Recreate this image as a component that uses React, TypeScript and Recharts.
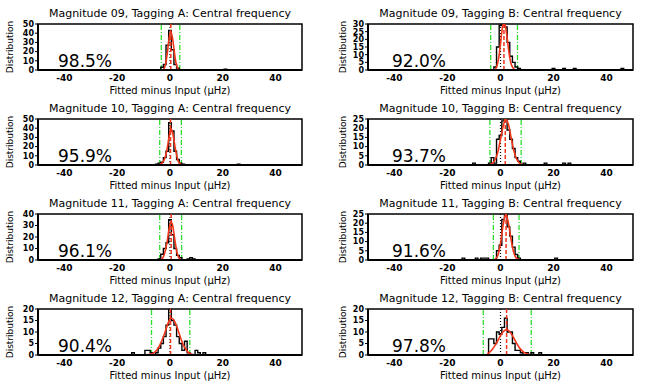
import { ComposedChart, Line, XAxis, YAxis, ReferenceLine, ReferenceArea } from "recharts";

// histogram bins: [bin centre (μHz), count]
const hist09A: [number, number][] = [[-3, 3], [-2, 6], [-1, 27], [0, 43], [1, 22], [2, 6], [3, 2], [21, 1]];
const hist09B: [number, number][] = [[-2, 2], [-1, 15], [0, 29], [1, 30], [2, 28], [3, 18], [4, 9], [5, 5], [6, 2], [7, 1], [20, 1], [24, 1], [28, 1], [46, 1]];
const hist10A: [number, number][] = [[-5, 1], [-4, 2], [-3, 3], [-2, 8], [-1, 15], [0, 46], [1, 37], [2, 15], [3, 6], [4, 2], [5, 1], [26, 1]];
const hist10B: [number, number][] = [[-10, 1], [-4, 1], [-3, 4], [-2, 1], [-1, 14], [0, 16], [1, 24], [2, 25], [3, 19], [4, 14], [5, 9], [6, 4], [7, 2], [9, 1], [17, 1], [24, 1], [26, 1]];
const hist11A: [number, number][] = [[-4, 1], [-3, 5], [-2, 10], [-1, 15], [0, 35], [1, 22], [2, 10], [3, 4], [4, 2], [7, 1], [8, 2], [9, 1]];
const hist11B: [number, number][] = [[-14, 1], [-9, 1], [-7, 1], [-6, 1], [-5, 1], [-1, 5], [0, 8], [1, 22], [2, 25], [3, 18], [4, 13], [5, 7], [6, 3], [7, 1], [21, 1]];
const hist12A: [number, number][] = [[-14, 1], [-9, 2], [-8, 2], [-7, 1], [-5, 1], [-4, 3], [-3, 5], [-2, 8], [-1, 13], [0, 21], [1, 15], [2, 13], [3, 8], [4, 5], [5, 2], [6, 6], [7, 1], [10, 2], [11, 1], [13, 1]];
const hist12B: [number, number][] = [[-4, 7], [-3, 7], [-2, 5], [-1, 10], [0, 9], [1, 12], [2, 16], [3, 10], [4, 10], [5, 5], [6, 2], [7, 2], [8, 1], [10, 1], [12, 1], [15, 1]];

// gaussian fits: [x, y]
const fit09A: [number, number][] = [[-3, 0], [-2.5, 0.5], [-2, 3], [-1.5, 9], [-1, 19], [-0.5, 31], [0, 40], [0.3, 41], [0.5, 40], [1, 34], [1.5, 23], [2, 12], [2.5, 5], [3, 1.5], [3.5, 0.3], [4, 0], [21, 0]];
const fit09B: [number, number][] = [[-3, 0], [-2, 0.5], [-1.5, 2], [-1, 5], [-0.5, 10], [0, 17], [0.5, 25], [1, 30], [1.3, 31], [1.5, 30.5], [2, 27], [2.5, 21], [3, 14], [3.5, 8], [4, 4], [4.5, 2], [5, 0.8], [6, 0], [46, 0]];
const fit10A: [number, number][] = [[-5, 0], [-4, 0.5], [-3, 2], [-2, 7], [-1.5, 12], [-1, 19], [-0.5, 28], [0, 36], [0.3, 40], [0.5, 39], [1, 35], [1.5, 27], [2, 18], [2.5, 11], [3, 5], [3.5, 2.5], [4, 1], [5, 0], [26, 0]];
const fit10B: [number, number][] = [[-10, 0], [-5, 0], [-4, 0.3], [-3, 1], [-2, 3], [-1, 7], [0, 14], [1, 21], [1.9, 25], [3, 22], [4, 15], [5, 8], [6, 3.5], [7, 1.2], [8, 0.3], [9, 0], [27, 0]];
const fit11A: [number, number][] = [[-4, 0], [-3, 1], [-2.5, 3], [-2, 6], [-1.5, 11], [-1, 17], [-0.5, 25], [0, 31], [0.4, 33], [1, 30], [1.5, 23], [2, 15], [2.5, 8], [3, 4], [3.5, 1.5], [4, 0.5], [5, 0], [10, 0]];
const fit11B: [number, number][] = [[-14, 0], [-3, 0], [-2, 0.5], [-1, 2.5], [0, 9], [1, 19], [2, 25], [3, 20], [4, 11], [5, 4], [6, 1], [7, 0.2], [8, 0], [21, 0]];
const fit12A: [number, number][] = [[-14, 0], [-8, 0.2], [-6, 1], [-5, 2.2], [-4, 4], [-3, 6.5], [-2, 9.5], [-1, 13], [0, 15.5], [0.5, 16], [1, 15.8], [2, 14], [3, 11], [4, 7.5], [5, 4.5], [6, 2.5], [7, 1], [8, 0.4], [10, 0], [13, 0]];
const fit12B: [number, number][] = [[-5, 0.5], [-4, 1.3], [-3, 2.6], [-2, 4.3], [-1, 6.3], [0, 8.4], [1, 10.1], [2.2, 11], [3, 10.7], [4, 9.3], [5, 7.4], [6, 5.3], [7, 3.4], [8, 2], [9, 1], [10, 0.5], [11, 0.2], [12, 0], [15, 0]];

// fitted mean and green limits
const means = [0.3, 1.3, 0.2, 1.8, 0.45, 2.1, 0.2, 2.3];
const limitsLo = [-3.3, -3.7, -3.9, -4, -3.9, -2.7, -7, -6.5];
const limitsHi = [3.7, 6.4, 4.3, 7.8, 4.4, 7, 7.5, 11.6];
const percents = ["98.5%", "92.0%", "95.9%", "93.7%", "96.1%", "91.6%", "90.4%", "97.8%"];
const titles = [
  "Magnitude 09, Tagging A: Central frequency",
  "Magnitude 09, Tagging B: Central frequency",
  "Magnitude 10, Tagging A: Central frequency",
  "Magnitude 10, Tagging B: Central frequency",
  "Magnitude 11, Tagging A: Central frequency",
  "Magnitude 11, Tagging B: Central frequency",
  "Magnitude 12, Tagging A: Central frequency",
  "Magnitude 12, Tagging B: Central frequency",
];
const yMaxes = [50, 30, 50, 25, 40, 25, 20, 20];
const xTicks = [-40, -20, 0, 20, 40];

const hists = [hist09A, hist09B, hist10A, hist10B, hist11A, hist11B, hist12A, hist12B];
const fits = [fit09A, fit09B, fit10A, fit10B, fit11A, fit11B, fit12A, fit12B];

const RED = "#f2361a";
const GREEN = "#2ee02e";

// fill empty bins with zero so the step outline closes
const histRows = (bins: [number, number][]) => {
  const m = new Map(bins);
  const lo = bins[0][0] - 1;
  const hi = bins[bins.length - 1][0] + 1;
  const rows = [];
  for (let x = lo; x <= hi; x++) rows.push({ x, n: m.get(x) ?? 0 });
  return rows;
};

const yTicksFor = (max: number) => {
  const step = max >= 40 ? 10 : 5;
  const t = [];
  for (let v = 0; v <= max; v += step) t.push(v);
  return t;
};

const Panel = ({ i }: { i: number }) => {
  const right = i % 2 === 1;
  const row = Math.floor(i / 2);
  const left = right ? 322 : 0;
  const width = right ? 323 : 322;
  const mLeft = right ? 16 : 8;
  const mRight = right ? 12 : 20;
  const plotLeft = mLeft + 30;
  const yMax = yMaxes[i];
  return (
    <div style={{ position: "absolute", left, top: row * 95, width, height: 100 }}>
      <div
        style={{
          position: "absolute",
          left: plotLeft,
          width: width - plotLeft - mRight,
          top: 8,
          fontSize: 11,
          lineHeight: "12px",
          textAlign: "center",
          whiteSpace: "nowrap",
        }}
      >
        {titles[i]}
      </div>
      <div
        style={{
          position: "absolute",
          left: right ? 21 : 10,
          top: 47,
          fontSize: 9,
          lineHeight: "10px",
          whiteSpace: "nowrap",
          transform: "translate(-50%, -50%) rotate(-90deg)",
        }}
      >
        Distribution
      </div>
      <ComposedChart width={width} height={100} margin={{ top: 24, right: mRight, bottom: 5, left: mLeft }}>
        <XAxis
          dataKey="x"
          type="number"
          domain={[-50, 50]}
          ticks={xTicks}
          allowDataOverflow
          height={25}
          tickLine={false}
          tickSize={2}
          tickMargin={3}
          axisLine={{ stroke: "#000", strokeWidth: 2 }}
          tick={{ fill: "#000", fontSize: 9, fontWeight: 600 }}
          label={{ value: "Fitted minus Input (μHz)", position: "insideBottom", offset: 1, fill: "#000", fontSize: 10 }}
        />
        <YAxis
          yAxisId="l"
          type="number"
          domain={[0, yMax]}
          ticks={yTicksFor(yMax)}
          allowDataOverflow
          width={30}
          tickSize={3}
          tickMargin={1}
          interval={0}
          axisLine={{ stroke: "#000", strokeWidth: 2 }}
          tickLine={{ stroke: "#000" }}
          tick={{ fill: "#000", fontSize: 8, fontWeight: 600 }}
        />
        <YAxis
          yAxisId="r"
          orientation="right"
          type="number"
          domain={[0, yMax]}
          ticks={yTicksFor(yMax)}
          allowDataOverflow
          width={0}
          mirror
          tick={false}
          tickSize={4}
          tickLine={{ stroke: "#000" }}
          axisLine={{ stroke: "#000", strokeWidth: 2 }}
        />
        <ReferenceArea yAxisId="l" x1={-50} x2={50} y1={0} y2={yMax} fill="none" stroke="#000" strokeWidth={1.5} />
        <ReferenceLine yAxisId="l" x={0} stroke="#000" strokeDasharray="1 2" strokeWidth={1.2} />
        <ReferenceLine yAxisId="l" x={limitsLo[i]} stroke={GREEN} strokeDasharray="5 2 1 2" strokeWidth={1.3} />
        <ReferenceLine yAxisId="l" x={limitsHi[i]} stroke={GREEN} strokeDasharray="5 2 1 2" strokeWidth={1.3} />
        <Line
          yAxisId="l"
          data={histRows(hists[i])}
          dataKey="n"
          type="step"
          stroke="#000"
          strokeWidth={1.4}
          dot={false}
          isAnimationActive={false}
        />
        <ReferenceLine yAxisId="l" x={means[i]} stroke={RED} strokeDasharray="4 2" strokeWidth={1.5} />
        <Line
          yAxisId="l"
          data={fits[i].map(([x, y]) => ({ x, y }))}
          dataKey="y"
          type="monotone"
          stroke={RED}
          strokeWidth={1.6}
          dot={false}
          isAnimationActive={false}
        />
      </ComposedChart>
      <div
        style={{
          position: "absolute",
          left: plotLeft + (right ? 24 : 20),
          top: 53,
          fontSize: 17,
          lineHeight: "17px",
        }}
      >
        {percents[i]}
      </div>
    </div>
  );
}

export default function App() {
  return (
    <div
      style={{
        position: "absolute",
        left: 0,
        top: 0,
        width: 645,
        height: 389,
        background: "#fff",
        fontFamily: "'DejaVu Sans', sans-serif",
      }}
    >
      {titles.map((_, i) => (
        <Panel key={i} i={i} />
      ))}
    </div>
  );
}
